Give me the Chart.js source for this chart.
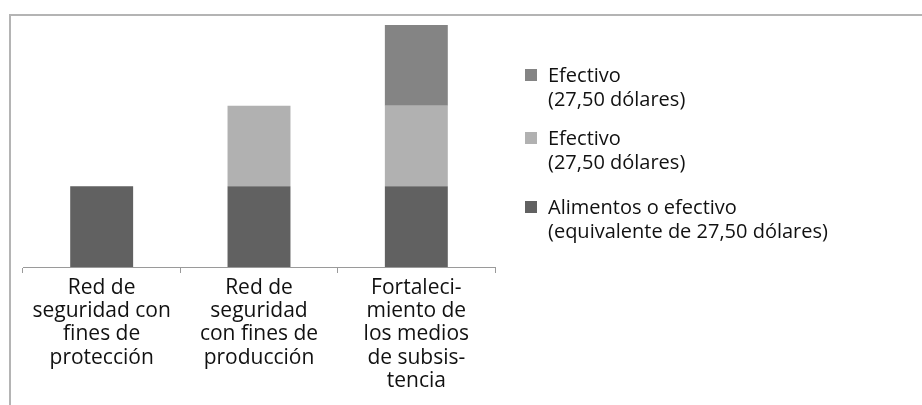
<!DOCTYPE html>
<html>
<head>
<meta charset="utf-8">
<script src="https://cdn.jsdelivr.net/npm/chart.js@4"></script>
<style>
  body { margin: 0; background: #fff; }
  #wrap { position: relative; width: 922px; height: 405px; overflow: hidden; }
  #frame { position: absolute; left: 9px; top: 14px; right: -5px; bottom: -5px;
    border-top: 2px solid #b4b4b4; border-left: 2px solid #b4b4b4; }
  #legend { position: absolute; left: 525px; top: 0; font-family: "Open Sans", sans-serif;
    font-size: 20px; line-height: 23.5px; color: #111; }
  .item { position: absolute; left: 0; white-space: nowrap; }
  .box { position: absolute; left: 0; top: 6px; width: 12px; height: 12px; }
  .txt { position: absolute; left: 23px; top: 0; }
  canvas { position: absolute; left: 0; top: 0; }
</style>
</head>
<body>
<div id="wrap">
  <div id="frame"></div>
  <canvas id="chart" width="922" height="405"></canvas>
  <div id="legend"></div>
</div>
<script>
// Categories (multi-line labels)
const categories = [
  ["Red de", "seguridad con", "fines de", "protección"],
  ["Red de", "seguridad", "con fines de", "producción"],
  ["Fortaleci-", "miento de", "los medios", "de subsis-", "tencia"]
];

// Series values (dólares por segmento)
const alimentos = [27.5, 27.5, 27.5];
const efectivo1 = [null, 27.5, 27.5];
const efectivo2 = [null, null, 27.5];

// Series names
const seriesNames = [
  ["Alimentos o efectivo", "(equivalente de 27,50 dólares)"],
  ["Efectivo", "(27,50 dólares)"],
  ["Efectivo", "(27,50 dólares)"]
];
const seriesColors = ["#616161", "#b1b1b1", "#848484"];

const ctx = document.getElementById("chart").getContext("2d");
const chart = new Chart(ctx, {
  type: "bar",
  data: {
    labels: categories,
    datasets: [
      { label: seriesNames[0].join(" "), data: alimentos, backgroundColor: seriesColors[0] },
      { label: seriesNames[1].join(" "), data: efectivo1, backgroundColor: seriesColors[1] },
      { label: seriesNames[2].join(" "), data: efectivo2, backgroundColor: seriesColors[2] }
    ]
  },
  options: {
    responsive: false,
    animation: false,
    layout: { padding: { left: 23, right: 427, top: 3, bottom: 0 } },
    datasets: { bar: { barPercentage: 0.8, categoryPercentage: 0.5 } },
    plugins: { legend: { display: false }, tooltip: { enabled: false } },
    scales: {
      x: {
        stacked: true,
        grid: { offset: true, drawOnChartArea: false, drawTicks: true, tickLength: 6, color: "#9a9a9a" },
        border: { display: true, color: "#9a9a9a", width: 1 },
        ticks: {
          color: "#111",
          padding: 3,
          maxRotation: 0,
          autoSkip: false,
          font: { family: "Open Sans", size: 21, lineHeight: 1.11 }
        },
        afterFit: function (scale) { scale.height = 405 - 267; }
      },
      y: {
        stacked: true,
        display: false,
        min: 0,
        max: 90
      }
    }
  }
});

// HTML legend, reversed order like the original
const legend = document.getElementById("legend");
const tops = [63, 126, 195];
[2, 1, 0].forEach((idx, i) => {
  const item = document.createElement("div");
  item.className = "item";
  item.style.top = tops[i] + "px";
  const box = document.createElement("div");
  box.className = "box";
  box.style.background = seriesColors[idx];
  const txt = document.createElement("div");
  txt.className = "txt";
  txt.innerHTML = seriesNames[idx].join("<br>");
  item.appendChild(box);
  item.appendChild(txt);
  legend.appendChild(item);
});
</script>
</body>
</html>
